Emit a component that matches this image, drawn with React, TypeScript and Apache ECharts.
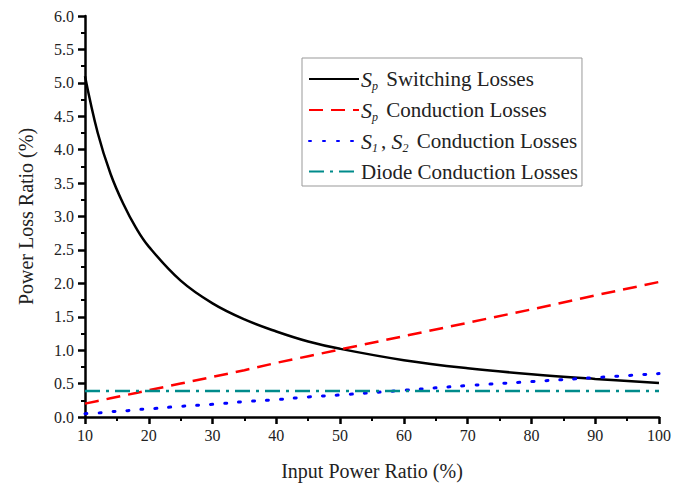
import React, { useEffect, useRef } from "react";
import * as echarts from "echarts";

const xValues = [10, 12, 14, 16, 18, 20, 25, 30, 35, 40, 45, 50, 60, 70, 80, 90, 100];
const switchingLosses = [5.1, 4.25, 3.64, 3.19, 2.83, 2.55, 2.04, 1.7, 1.46, 1.28, 1.13, 1.02, 0.85, 0.73, 0.64, 0.57, 0.51];
const spConduction = [0.2, 0.24, 0.28, 0.32, 0.36, 0.4, 0.5, 0.6, 0.7, 0.81, 0.91, 1.01, 1.21, 1.41, 1.61, 1.82, 2.02];
const s12Conduction = [0.05, 0.06, 0.08, 0.09, 0.11, 0.12, 0.16, 0.19, 0.23, 0.26, 0.3, 0.33, 0.4, 0.47, 0.53, 0.59, 0.65];
const diodeConduction = [0.39, 0.39, 0.39, 0.39, 0.39, 0.39, 0.39, 0.39, 0.39, 0.39, 0.39, 0.39, 0.39, 0.39, 0.39, 0.39, 0.39];

const seriesNames = ["Sp Switching Losses", "Sp Conduction Losses", "S1, S2 Conduction Losses", "Diode Conduction Losses"];
const richLabels: Record<string, string> = {
  "Sp Switching Losses": "{s|S}{sub|p} Switching Losses",
  "Sp Conduction Losses": "{s|S}{sub|p} Conduction Losses",
  "S1, S2 Conduction Losses": "{s|S}{sub|1}, {s|S}{sub|2} Conduction Losses",
  "Diode Conduction Losses": "Diode Conduction Losses",
};

const FONT = "Liberation Serif";

const pairs = (ys: number[]) => xValues.map((x, i) => [x, ys[i]]);

export default function App() {
  const ref = useRef<HTMLDivElement>(null);
  useEffect(() => {
    if (!ref.current) return;
    const chart = echarts.init(ref.current, undefined, { renderer: "svg" });
    const axisCommon = {
      axisLine: { show: true, onZero: false, lineStyle: { color: "#000", width: 2.5 } },
      axisTick: { show: true, inside: false, length: 7, lineStyle: { color: "#000", width: 2.5 } },
      minorTick: { show: true, splitNumber: 2, length: 4, lineStyle: { color: "#000", width: 2 } },
      splitLine: { show: false },
      axisLabel: { color: "#222", fontFamily: FONT, fontSize: 16 },
      nameTextStyle: { color: "#222", fontFamily: FONT, fontSize: 20 },
    };
    chart.setOption({
      animation: false,
      backgroundColor: "#fff",
      grid: { left: 73, right: 33, top: 8, bottom: 80, containLabel: false },
      xAxis: {
        type: "value",
        min: 10,
        max: 100,
        interval: 10,
        name: "Input Power Ratio (%)",
        nameLocation: "middle",
        nameGap: 44,
        ...axisCommon,
        axisLabel: { ...axisCommon.axisLabel, margin: 10 },
      },
      yAxis: {
        type: "value",
        min: 0,
        max: 6,
        interval: 0.5,
        name: "Power Loss Ratio (%)",
        nameLocation: "middle",
        nameGap: 49,
        ...axisCommon,
        axisLabel: { ...axisCommon.axisLabel, margin: 11, formatter: (v: number) => v.toFixed(1) },
      },
      legend: {
        data: seriesNames,
        orient: "vertical",
        left: 294,
        top: 50,
        itemWidth: 50,
        itemHeight: 14,
        itemGap: 7,
        padding: [10, 4, 4, 6],
        borderColor: "#999",
        borderWidth: 1,
        backgroundColor: "#fff",
        itemStyle: { opacity: 0 },
        formatter: (name: string) => richLabels[name] || name,
        textStyle: {
          color: "#222",
          fontFamily: FONT,
          fontSize: 21,
          padding: [0, 0, 0, -3],
          rich: {
            s: { fontFamily: FONT, fontSize: 22, fontStyle: "italic", color: "#222" },
            sub: { fontFamily: FONT, fontSize: 12, fontStyle: "italic", color: "#222", verticalAlign: "bottom", padding: [14, 3, 0, 0] },
          },
        },
      },
      series: [
        {
          name: seriesNames[0],
          type: "line",
          data: pairs(switchingLosses),
          smooth: 0.4,
          symbol: "none",
          lineStyle: { color: "#000", width: 2.5 },
          itemStyle: { color: "#000" },
        },
        {
          name: seriesNames[1],
          type: "line",
          data: pairs(spConduction),
          symbol: "none",
          lineStyle: { color: "#ff0000", width: 2.5, type: [14, 8] },
          itemStyle: { color: "#ff0000" },
        },
        {
          name: seriesNames[2],
          type: "line",
          data: pairs(s12Conduction),
          smooth: true,
          symbol: "none",
          lineStyle: { color: "#0000ff", width: 3, type: [2, 12], cap: "round" },
          itemStyle: { color: "#0000ff" },
        },
        {
          name: seriesNames[3],
          type: "line",
          data: pairs(diodeConduction),
          symbol: "none",
          lineStyle: { color: "#008b8b", width: 2.5, type: [15, 6, 3, 6] },
          itemStyle: { color: "#008b8b" },
        },
      ],
    });
    return () => chart.dispose();
  }, []);
  return <div ref={ref} style={{ width: 684, height: 489 }} />;
}
